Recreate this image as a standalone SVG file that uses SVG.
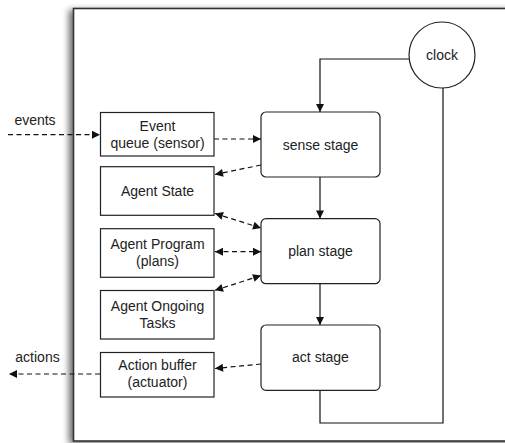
<svg xmlns="http://www.w3.org/2000/svg" width="505" height="443" viewBox="0 0 505 443">
<style>
.box{fill:#fff;stroke:#222;stroke-width:1.2}
.t{font-family:"Liberation Sans",Arial,sans-serif;font-size:14px;fill:#222;text-anchor:middle}
.solid{fill:none;stroke:#111;stroke-width:1.2}
.dash{fill:none;stroke:#111;stroke-width:1.2;stroke-dasharray:5 3.5}
</style>
<defs>
<marker id="ah" viewBox="0 0 10 10" refX="10" refY="5" markerWidth="9" markerHeight="8" markerUnits="userSpaceOnUse" orient="auto-start-reverse">
<path d="M0,0 L10,5 L0,10 z" fill="#111"/>
</marker>
<filter id="sh" x="-5%" y="-5%" width="110%" height="110%">
<feDropShadow dx="-4" dy="2" stdDeviation="3" flood-color="#000" flood-opacity="0.55"/>
</filter>
</defs>
<rect x="0" y="0" width="505" height="443" fill="#fff"/>
<rect id="frame" x="73.5" y="8.5" width="450" height="432.5" fill="#fff" stroke="#333" stroke-width="1.6" filter="url(#sh)"/>

<g id="connectors">
<path class="solid" d="M409,59 H320 V112" marker-end="url(#ah)"/>
<path class="solid" d="M443,88 V423 H320 V390.5"/>
<path class="solid" d="M320,177 V218.5" marker-end="url(#ah)"/>
<path class="solid" d="M320,284 V325" marker-end="url(#ah)"/>
<path class="dash" d="M8,134.7 H100" marker-end="url(#ah)"/>
<path class="dash" d="M214,139 H261" marker-end="url(#ah)"/>
<path class="dash" d="M261,165 L215,174.5" marker-end="url(#ah)"/>
<path class="dash" d="M215,213.5 L261,228" marker-start="url(#ah)" marker-end="url(#ah)"/>
<path class="dash" d="M215,251.7 H261" marker-start="url(#ah)" marker-end="url(#ah)"/>
<path class="dash" d="M215,290.3 L261,275.5" marker-start="url(#ah)" marker-end="url(#ah)"/>
<path class="dash" d="M261,364 L215,368.5" marker-end="url(#ah)"/>
<path class="dash" d="M100,374 H9" marker-end="url(#ah)"/>
</g>

<g id="clock">
<circle cx="442" cy="55" r="33" class="box"/>
<text class="t" x="442" y="60">clock</text>
</g>
<g id="event-queue">
<rect class="box" x="100.5" y="112.5" width="113.5" height="43.5"/>
<text class="t" x="157.5" y="130.5">Event</text>
<text class="t" x="157.5" y="147.5">queue (sensor)</text>
</g>
<g id="agent-state">
<rect class="box" x="100.5" y="166.7" width="113.5" height="48.6"/>
<text class="t" x="157.5" y="196">Agent State</text>
</g>
<g id="agent-program">
<rect class="box" x="100.5" y="228.7" width="113.5" height="48.6"/>
<text class="t" x="157.5" y="249">Agent Program</text>
<text class="t" x="157.5" y="266">(plans)</text>
</g>
<g id="agent-ongoing">
<rect class="box" x="100.5" y="290.5" width="113.5" height="48.5"/>
<text class="t" x="157.5" y="311">Agent Ongoing</text>
<text class="t" x="157.5" y="328">Tasks</text>
</g>
<g id="action-buffer">
<rect class="box" x="100.5" y="352.5" width="113.5" height="44.5"/>
<text class="t" x="157.5" y="370">Action buffer</text>
<text class="t" x="157.5" y="387">(actuator)</text>
</g>
<g id="sense-stage">
<rect class="box" x="261" y="112" width="119" height="65" rx="5"/>
<text class="t" x="320.5" y="149.5">sense stage</text>
</g>
<g id="plan-stage">
<rect class="box" x="261" y="218.7" width="119" height="65" rx="5"/>
<text class="t" x="320.5" y="256">plan stage</text>
</g>
<g id="act-stage">
<rect class="box" x="261" y="325" width="119" height="65.3" rx="5"/>
<text class="t" x="320.5" y="362">act stage</text>
</g>
<text class="t" x="35" y="125">events</text>
<text class="t" x="37.5" y="362">actions</text>
</svg>
